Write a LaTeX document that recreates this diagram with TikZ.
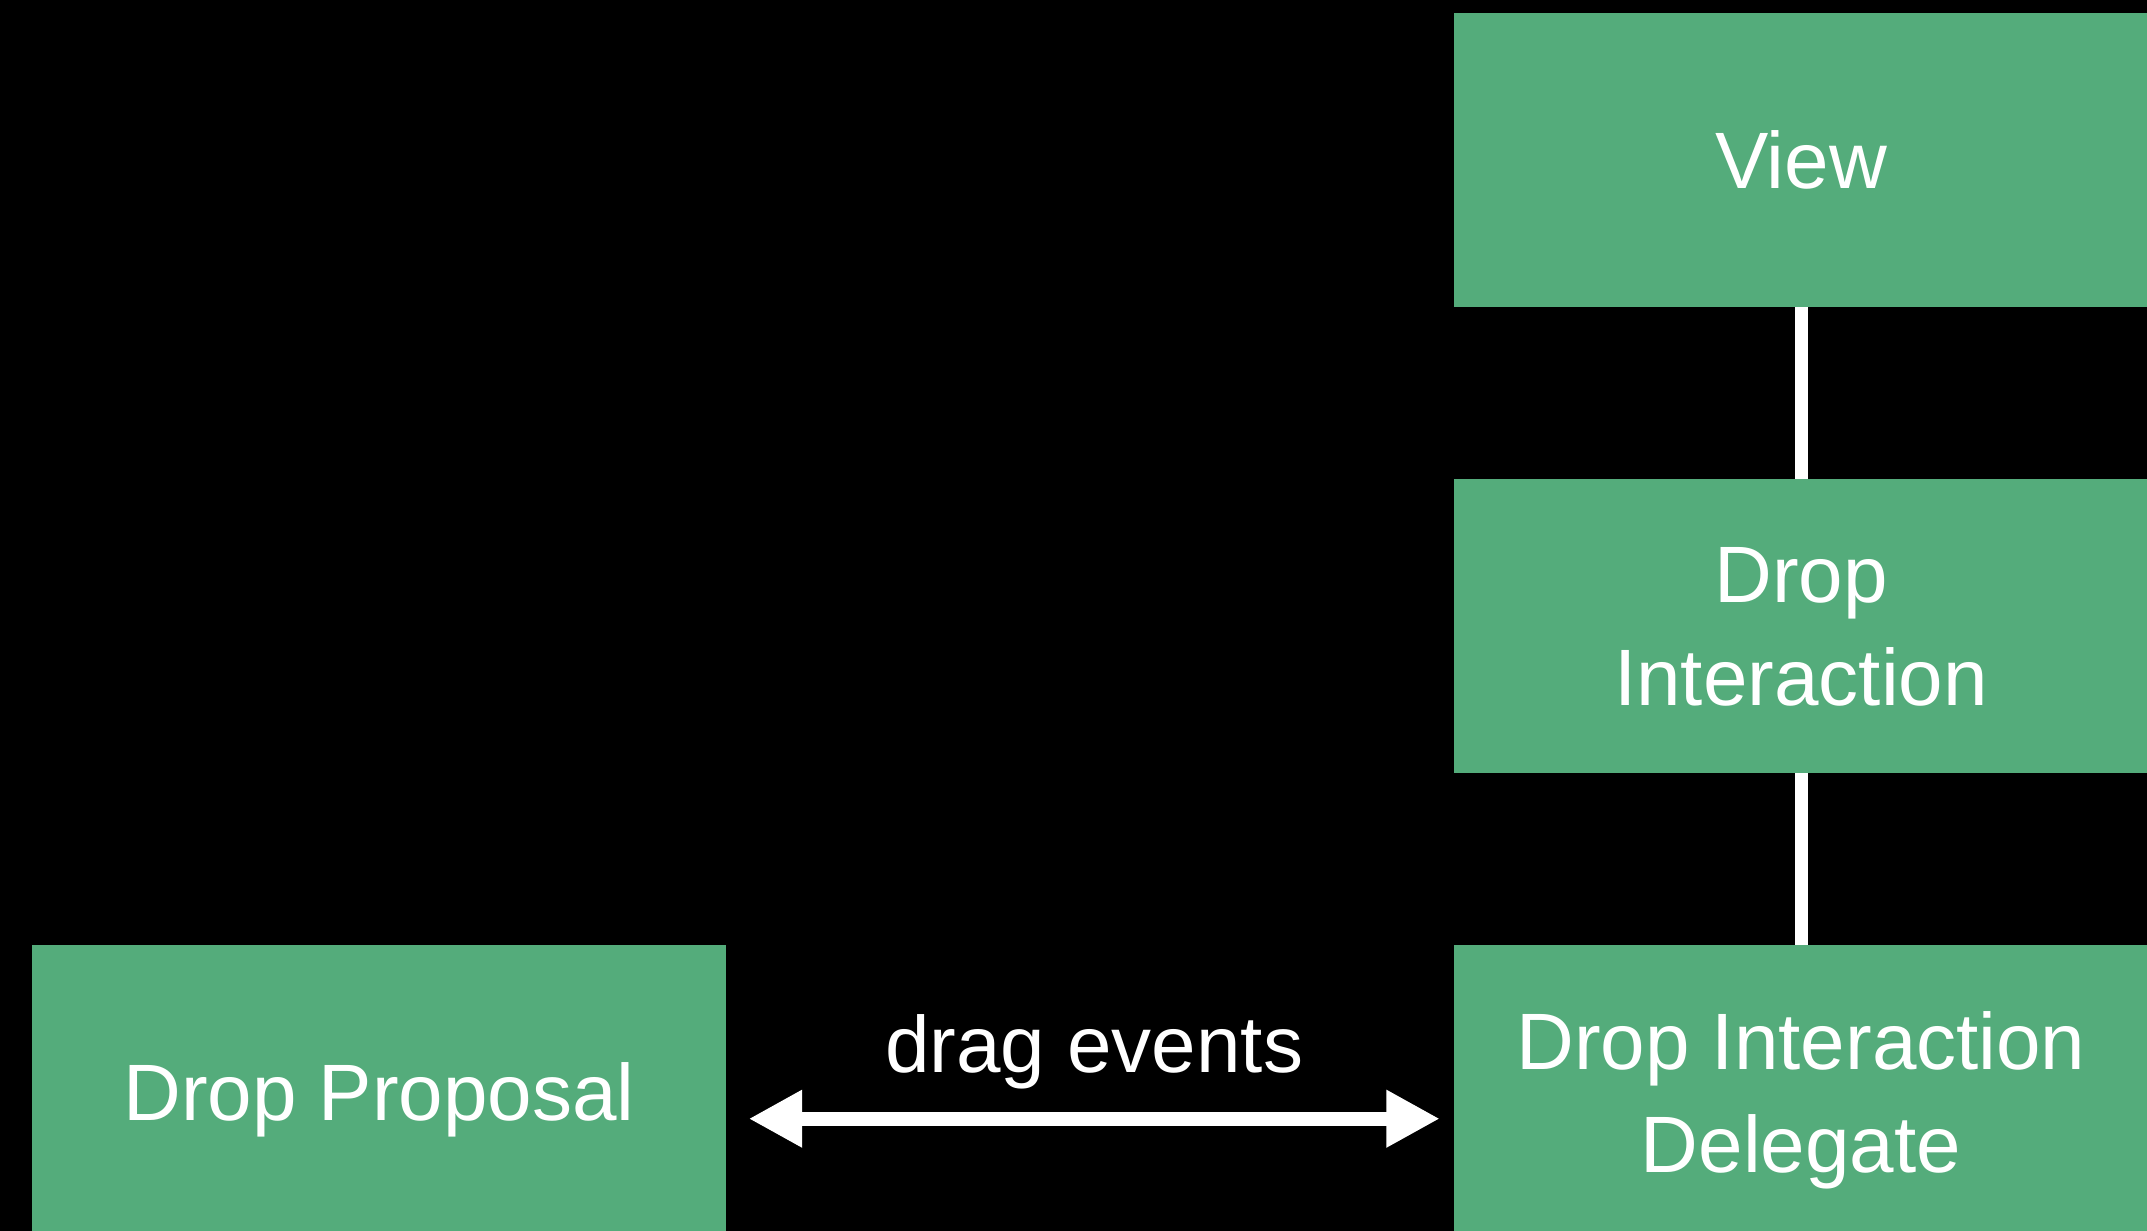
\documentclass[tikz,border=0pt]{standalone}
\usepackage{fontspec}
\setmainfont{Liberation Sans}
\usetikzlibrary{arrows.meta}
\definecolor{boxgreen}{RGB}{84,172,123}
\tikzset{
  box/.style={rectangle, fill=boxgreen, draw=none, inner sep=0pt,
    minimum width=694pt, minimum height=294pt, text=white, align=center,
    text depth=0pt, font=\fontsize{80pt}{103pt}\selectfont},
  conn/.style={draw=white, line width=13pt},
  dblarrow/.style={draw=white, line width=14pt,
    {Triangle[length=53.5pt,width=54pt]}-{Triangle[length=53.5pt,width=54pt]}},
  lbl/.style={text=white, inner sep=0pt, font=\fontsize{80pt}{96pt}\selectfont}
}
\begin{document}
\begin{tikzpicture}[x=1pt,y=-1pt]
  \fill[black] (0,0) rectangle (2147,1231);
  \useasboundingbox (0,0) rectangle (2147,1231);
  \clip (0,0) rectangle (2147,1231);
  \node[box] (view) at (1801,160) {View};
  \node[box] (di) at (1801,626) {Drop\\Interaction};
  \node[box] (did) at (1801,1092) {Drop Interaction\\Delegate};
  \node[box] (dp) at (379,1092) {Drop Proposal};
  \draw[conn] (view.south) -- (di.north);
  \draw[conn] (di.south) -- (did.north);
  \draw[dblarrow] ([xshift=22.5pt,yshift=-26.7pt]dp.east) -- node[lbl, pos=0.5, anchor=base, yshift=46.7pt] {drag events} ([xshift=-14pt,yshift=-26.7pt]did.west);
\end{tikzpicture}
\end{document}
